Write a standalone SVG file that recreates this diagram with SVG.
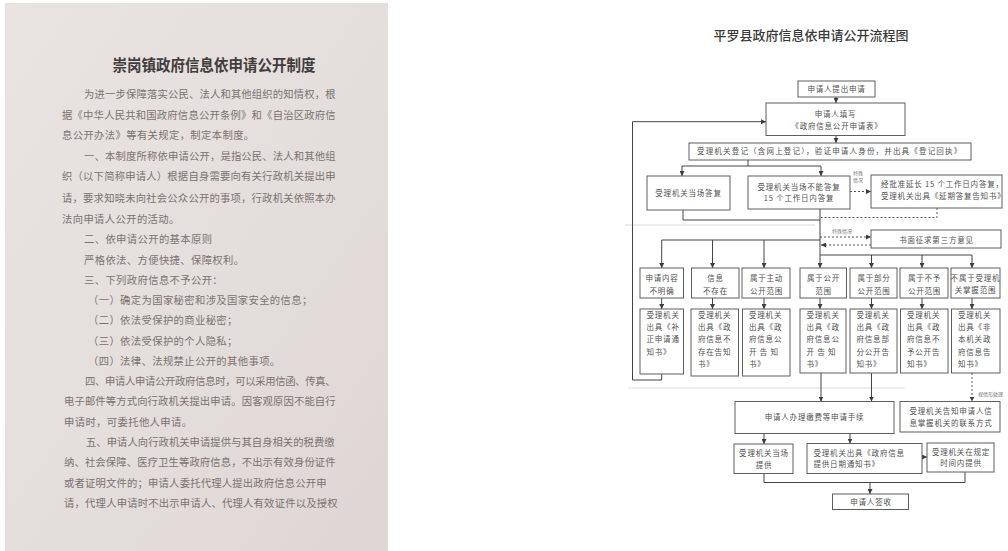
<svg xmlns="http://www.w3.org/2000/svg" width="1008" height="551" viewBox="0 0 1008 551">
<defs>
<linearGradient id="pg" x1="0" y1="0" x2="1" y2="1">
<stop offset="0" stop-color="#e9e4e2"/>
<stop offset="0.5" stop-color="#e4dedc"/>
<stop offset="1" stop-color="#ddd6d4"/>
</linearGradient>
<marker id="ar" markerWidth="5" markerHeight="5" refX="5" refY="2.5" orient="auto" markerUnits="userSpaceOnUse">
<path d="M0,0 L5,2.5 L0,5 z" fill="#3c3c3c"/>
</marker>
<style>
.ptitle{font-family:"Noto Sans CJK SC",sans-serif;font-size:16px;font-weight:700;fill:#423c3c}
.body{font-family:"Noto Sans CJK SC",sans-serif;font-size:10.3px;letter-spacing:0.4px;fill:#7b7270}
.ftitle{font-family:"Noto Sans CJK SC",sans-serif;font-size:13px;font-weight:500;fill:#3a3a3a}
.box{fill:#ffffff;stroke:#5e5e5e;stroke-width:1}
.t{font-family:"Noto Sans CJK SC",sans-serif;font-size:7.5px;letter-spacing:0.8px;fill:#505050}
.c{text-anchor:middle}
.s{font-family:"Noto Sans CJK SC",sans-serif;font-size:5px;fill:#777}
.ln{fill:none;stroke:#444;stroke-width:1}
.dl{fill:none;stroke:#555;stroke-width:1;stroke-dasharray:2,2}
.faint{stroke:#e8e8e8;stroke-width:1.5}
</style>
</defs>
<rect x="0" y="0" width="1008" height="551" fill="#ffffff"/>

<!-- left document page -->
<g id="page-left">
<rect x="5" y="3" width="383" height="548" fill="url(#pg)"/>
<text class="ptitle" x="112.5" y="71" textLength="203" lengthAdjust="spacingAndGlyphs">崇岗镇政府信息依申请公开制度</text>
<text class="body" x="84" y="98.2" textLength="252" lengthAdjust="spacing">为进一步保障落实公民、法人和其他组织的知情权，根</text>
<text class="body" x="62" y="118.7" textLength="274" lengthAdjust="spacing">据《中华人民共和国政府信息公开条例》和《自治区政府信</text>
<text class="body" x="62" y="139.2">息公开办法》等有关规定，制定本制度。</text>
<text class="body" x="84" y="160.2" textLength="252" lengthAdjust="spacing">一、本制度所称依申请公开，是指公民、法人和其他组</text>
<text class="body" x="62" y="180.2" textLength="274" lengthAdjust="spacing">织（以下简称申请人）根据自身需要向有关行政机关提出申</text>
<text class="body" x="62" y="201.7" textLength="274" lengthAdjust="spacing">请，要求知晓未向社会公众公开的事项，行政机关依照本办</text>
<text class="body" x="62" y="222.7">法向申请人公开的活动。</text>
<text class="body" x="84" y="243.2">二、依申请公开的基本原则</text>
<text class="body" x="84" y="264.2">严格依法、方便快捷、保障权利。</text>
<text class="body" x="84" y="284.2">三、下列政府信息不予公开：</text>
<text class="body" x="88" y="304.2">（一）确定为国家秘密和涉及国家安全的信息；</text>
<text class="body" x="88" y="324.2">（二）依法受保护的商业秘密；</text>
<text class="body" x="88" y="345.2">（三）依法受保护的个人隐私；</text>
<text class="body" x="88" y="365.2">（四）法律、法规禁止公开的其他事项。</text>
<text class="body" x="85" y="385.2" textLength="251" lengthAdjust="spacing">四、申请人申请公开政府信息时，可以采用信函、传真、</text>
<text class="body" x="64" y="405.2" textLength="272" lengthAdjust="spacing">电子邮件等方式向行政机关提出申请。因客观原因不能自行</text>
<text class="body" x="64" y="425.8">申请时，可委托他人申请。</text>
<text class="body" x="86" y="445.9" textLength="249" lengthAdjust="spacing">五、申请人向行政机关申请提供与其自身相关的税费缴</text>
<text class="body" x="64" y="466.2" textLength="272" lengthAdjust="spacing">纳、社会保障、医疗卫生等政府信息，不出示有效身份证件</text>
<text class="body" x="64" y="487.2" textLength="263" lengthAdjust="spacing">或者证明文件的；申请人委托代理人提出政府信息公开申</text>
<text class="body" x="64" y="507.2" textLength="274" lengthAdjust="spacing">请，代理人申请时不出示申请人、代理人有效证件以及授权</text>
</g>

<!-- flowchart title and faint scan lines -->
<g id="flow-title">
<text class="ftitle c" x="811" y="39.5">平罗县政府信息依申请公开流程图</text>
<line class="faint" x1="625" y1="225" x2="815" y2="225"/>
<line class="faint" x1="628" y1="388" x2="905" y2="388"/>
</g>

<g id="connectors">
<path class="ln" d="M836,97 V103" marker-end="url(#ar)"/>
<path class="ln" d="M836,135.5 V143" marker-end="url(#ar)"/>
<path class="ln" d="M748,160 V166 M682,166 H821"/>
<path class="ln" d="M682,166 V176" marker-end="url(#ar)"/>
<path class="ln" d="M821,166 V176" marker-end="url(#ar)"/>
<path class="dl" d="M850,191.5 H871" marker-end="url(#ar)"/>
<path class="dl" d="M937,208 V217.5 H821"/>
<path class="ln" d="M683,210 V220 H820"/>
<path class="ln" d="M820,209 V268" marker-end="url(#ar)"/>
<path class="dl" d="M820,237 H871" marker-end="url(#ar)"/>
<path class="dl" d="M871,245 H821" marker-end="url(#ar)"/>
<path class="ln" d="M820,240 H661.7"/>
<path class="ln" d="M661.7,240 V268" marker-end="url(#ar)"/>
<path class="ln" d="M712.5,240 V268" marker-end="url(#ar)"/>
<path class="ln" d="M764,240 V268" marker-end="url(#ar)"/>
<path class="ln" d="M820,255 H972"/>
<path class="ln" d="M871.5,255 V268" marker-end="url(#ar)"/>
<path class="ln" d="M922,255 V268" marker-end="url(#ar)"/>
<path class="ln" d="M972,255 V268" marker-end="url(#ar)"/>
<path class="ln" d="M661.7,298 V309" marker-end="url(#ar)"/>
<path class="ln" d="M712.5,298 V309" marker-end="url(#ar)"/>
<path class="ln" d="M764,298 V309" marker-end="url(#ar)"/>
<path class="ln" d="M820,298 V309" marker-end="url(#ar)"/>
<path class="ln" d="M871.5,298 V309" marker-end="url(#ar)"/>
<path class="ln" d="M922,298 V309" marker-end="url(#ar)"/>
<path class="ln" d="M972,298 V309" marker-end="url(#ar)"/>
<path class="ln" d="M661.7,374 V380 H632.5 V121.7 H766" marker-end="url(#ar)"/>
<path class="ln" d="M821,373 V401.5" marker-end="url(#ar)"/>
<path class="ln" d="M871.5,373 V401.5" marker-end="url(#ar)"/>
<path class="dl" d="M972,373 V401.5" marker-end="url(#ar)"/>
<path class="ln" d="M764,433.5 V444" marker-end="url(#ar)"/>
<path class="ln" d="M850,433.5 V443.5" marker-end="url(#ar)"/>
<path class="ln" d="M922,457 H927" marker-end="url(#ar)"/>
<path class="ln" d="M764,473.5 V482.5 H965 V472"/>
<path class="ln" d="M870,482.5 V494" marker-end="url(#ar)"/>
<text class="s" x="853" y="175">特殊</text>
<text class="s" x="853" y="182">情况</text>
<text class="s" x="832" y="233">特殊情况</text>
<text class="s" x="978" y="395.5">视情形处理</text>
</g>

<g id="n-apply"><rect class="box" x="798" y="81" width="77" height="16"/><text class="t c" x="836.5" y="91.8">申请人提出申请</text></g>
<g id="n-form"><rect class="box" x="766" y="103" width="139" height="32.5"/><text class="t c" x="835.5" y="117.2">申请人填写</text><text class="t c" x="837" y="128.9" letter-spacing="0.2">《政府信息公开申请表》</text></g>
<g id="n-register"><rect class="box" x="689" y="143" width="282" height="17"/><text class="t" x="697" y="154.2" textLength="265" lengthAdjust="spacing">受理机关登记（含网上登记），验证申请人身份，并出具《登记回执》</text></g>
<g id="n-onsite"><rect class="box" x="647" y="176" width="83" height="34"/><text class="t c" x="688.5" y="195.8">受理机关当场答复</text></g>
<g id="n-15days"><rect class="box" x="748" y="176" width="102" height="33"/><text class="t c" x="799" y="190.2">受理机关当场不能答复</text><text class="t c" x="799" y="201.2">15 个工作日内答复</text></g>
<g id="n-extend"><rect class="box" x="871" y="175" width="131" height="33"/><text class="t" x="881" y="186.9">经批准延长 15 个工作日内答复，</text><text class="t" x="881" y="198.9" letter-spacing="0.3">受理机关出具《延期答复告知书》</text></g>
<g id="n-third"><rect class="box" x="871" y="230" width="130" height="18"/><text class="t c" x="936.5" y="242.8">书面征求第三方意见</text></g>

<g id="n-c1"><rect class="box" x="640" y="268" width="43.5" height="30"/><text class="t c" x="662" y="281.2">申请内容</text><text class="t c" x="662" y="293.6">不明确</text></g>
<g id="n-c2"><rect class="box" x="691.5" y="268" width="47.5" height="30"/><text class="t c" x="715.5" y="281.2">信息</text><text class="t c" x="715.5" y="293.6">不存在</text></g>
<g id="n-c3"><rect class="box" x="742" y="268" width="48" height="30"/><text class="t c" x="766.5" y="281.2">属于主动</text><text class="t c" x="766.5" y="293.6">公开范围</text></g>
<g id="n-c4"><rect class="box" x="800" y="268" width="46.5" height="30"/><text class="t c" x="823.5" y="281.2">属于公开</text><text class="t c" x="823.5" y="293.6">范围</text></g>
<g id="n-c5"><rect class="box" x="850" y="268" width="47" height="30"/><text class="t c" x="874" y="281.2">属于部分</text><text class="t c" x="874" y="293.6">公开范围</text></g>
<g id="n-c6"><rect class="box" x="900" y="268" width="48" height="30"/><text class="t c" x="924.5" y="281.2">属于不予</text><text class="t c" x="924.5" y="293.6">公开范围</text></g>
<g id="n-c7"><rect class="box" x="951" y="268" width="49" height="30"/><text class="t c" x="975.5" y="281" font-size="5.6" letter-spacing="0.3">不属于受理机</text><text class="t c" x="975.5" y="293" font-size="5.6" letter-spacing="0.3">关掌握范围</text></g>

<g id="n-d1"><rect class="box" x="640" y="309" width="43.5" height="65"/><text class="t"><tspan x="646.5" y="317.8">受理机关</tspan><tspan x="646.5" y="330.1">出具《补</tspan><tspan x="646.5" y="342.4">正申请通</tspan><tspan x="646.5" y="354.7">知书》</tspan></text></g>
<g id="n-d2"><rect class="box" x="691" y="309" width="47.5" height="67"/><text class="t"><tspan x="698" y="317.8">受理机关</tspan><tspan x="698" y="330.1">出具《政</tspan><tspan x="698" y="342.4">府信息不</tspan><tspan x="698" y="354.7">存在告知</tspan><tspan x="698" y="367">书》</tspan></text></g>
<g id="n-d3"><rect class="box" x="742.5" y="309" width="47.5" height="67"/><text class="t"><tspan x="749" y="317.8">受理机关</tspan><tspan x="749" y="330.1">出具《政</tspan><tspan x="749" y="342.4">府信息公</tspan><tspan x="749" y="354.7">开 告 知</tspan><tspan x="749" y="367">书》</tspan></text></g>
<g id="n-d4"><rect class="box" x="800" y="309" width="46" height="64"/><text class="t"><tspan x="806.5" y="317.8">受理机关</tspan><tspan x="806.5" y="330.1">出具《政</tspan><tspan x="806.5" y="342.4">府信息公</tspan><tspan x="806.5" y="354.7">开 告 知</tspan><tspan x="806.5" y="367">书》</tspan></text></g>
<g id="n-d5"><rect class="box" x="850" y="309" width="47" height="64"/><text class="t"><tspan x="856.5" y="317.8">受理机关</tspan><tspan x="856.5" y="330.1">出具《政</tspan><tspan x="856.5" y="342.4">府信息部</tspan><tspan x="856.5" y="354.7">分公开告</tspan><tspan x="856.5" y="367">知书》</tspan></text></g>
<g id="n-d6"><rect class="box" x="900.5" y="309" width="47.5" height="64"/><text class="t"><tspan x="907" y="317.8">受理机关</tspan><tspan x="907" y="330.1">出具《政</tspan><tspan x="907" y="342.4">府信息不</tspan><tspan x="907" y="354.7">予公开告</tspan><tspan x="907" y="367">知书》</tspan></text></g>
<g id="n-d7"><rect class="box" x="951.5" y="309" width="48.5" height="64"/><text class="t"><tspan x="958" y="317.8">受理机关</tspan><tspan x="958" y="330.1">出具《非</tspan><tspan x="958" y="342.4">本机关政</tspan><tspan x="958" y="354.7">府信息告</tspan><tspan x="958" y="367">知书》</tspan></text></g>

<g id="n-fee"><rect class="box" x="735" y="401.5" width="159" height="32"/><text class="t c" x="814.5" y="420.1">申请人办理缴费等申请手续</text></g>
<g id="n-inform"><rect class="box" x="900" y="401.5" width="100" height="30.5"/><text class="t" x="909.5" y="413.5" letter-spacing="0.6">受理机关告知申请人信</text><text class="t" x="909.5" y="426.1" letter-spacing="0.6">息掌握机关的联系方式</text></g>
<g id="n-provide"><rect class="box" x="734" y="444" width="59" height="29.5"/><text class="t c" x="764" y="456.1">受理机关当场</text><text class="t c" x="764" y="467.8">提供</text></g>
<g id="n-date"><rect class="box" x="807" y="443.5" width="115" height="30"/><text class="t" x="813.5" y="455.5">受理机关出具《政府信息</text><text class="t" x="813.5" y="466.8">提供日期通知书》</text></g>
<g id="n-intime"><rect class="box" x="927" y="443" width="67" height="29"/><text class="t c" x="961" y="454.5">受理机关在规定</text><text class="t c" x="961" y="466.1">时间内提供</text></g>
<g id="n-sign"><rect class="box" x="832.5" y="494" width="76" height="15.5"/><text class="t c" x="871" y="504.5">申请人签收</text></g>
</svg>
